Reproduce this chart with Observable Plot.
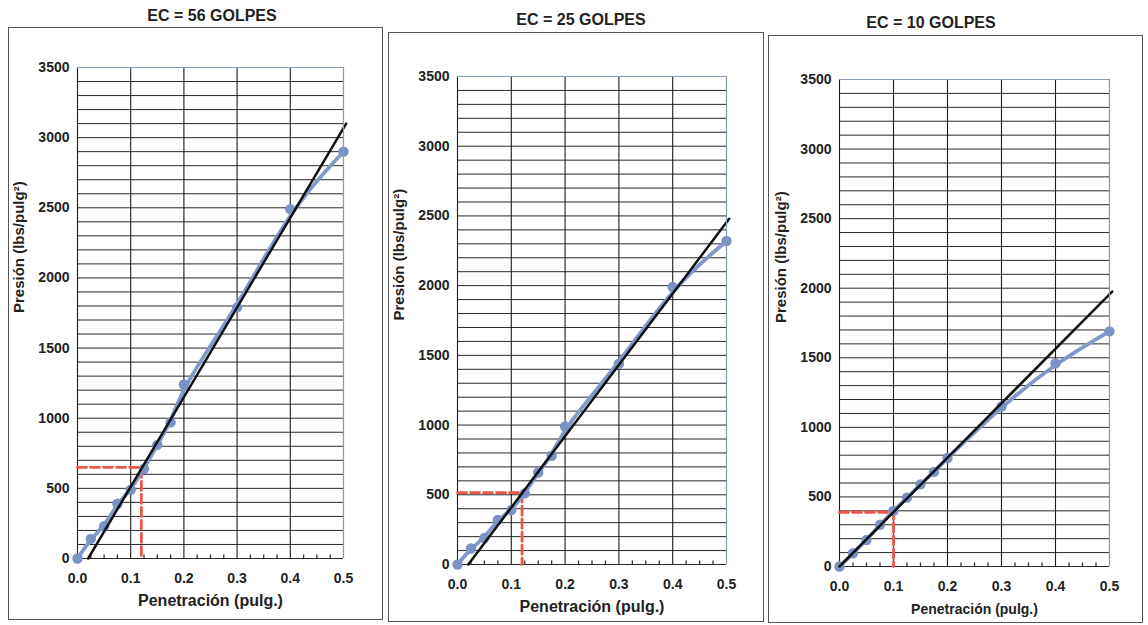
<!DOCTYPE html>
<html>
<head>
<meta charset="utf-8">
<script src="https://cdn.jsdelivr.net/npm/d3@7"></script>
<script src="https://cdn.jsdelivr.net/npm/@observablehq/plot@0.6"></script>
<style>
  body { margin: 0; background: #fff; width: 1148px; height: 625px; overflow: hidden; position: relative; font-family: "Liberation Sans", Arial, sans-serif; }
  .title { position: absolute; font-weight: bold; font-size: 16px; line-height: 18px; color: #222; transform: translateX(-50%); white-space: nowrap; }
  .box { position: absolute; border: 1.5px solid #555; box-sizing: border-box; background: #fff; }
  .box svg { display: block; }
</style>
</head>
<body>
<script>
// Shared penetration values (pulg.)
const penetration = [0, 0.025, 0.05, 0.075, 0.1, 0.125, 0.15, 0.175, 0.2, 0.3, 0.4, 0.5];
// Pressure readings (lbs/pulg²) for each compaction energy
const pressure56 = [0, 140, 230, 390, 490, 640, 810, 970, 1240, 1790, 2490, 2900];
const pressure25 = [0, 115, 190, 320, 390, 510, 660, 780, 990, 1440, 1990, 2320];
const pressure10 = [0, 95, 190, 300, 400, 495, 590, 680, 780, 1150, 1460, 1690];
// Straight trend lines: [x, y] endpoints
const fit56 = [[0.02, 0], [0.505, 3100]];
const fit25 = [[0.02, 0], [0.505, 2480]];
const fit10 = [[0.0, 0], [0.505, 1975]];
// Red reference readings: [penetration, pressure]
const ref56 = [0.12, 650];
const ref25 = [0.12, 515];
const ref10 = [0.1, 390];
// Titles, axis labels and ticks
const titles = ["EC = 56 GOLPES", "EC = 25 GOLPES", "EC = 10 GOLPES"];
const xLabel = "Penetración (pulg.)";
const yLabel = "Presión (lbs/pulg²)";
const xTicks = [0, 0.1, 0.2, 0.3, 0.4, 0.5];
const xMinorTicks = [0.025, 0.05, 0.075, 0.125, 0.15, 0.175, 0.225, 0.25, 0.275, 0.325, 0.35, 0.375, 0.425, 0.45, 0.475];
const yTicks = [0, 500, 1000, 1500, 2000, 2500, 3000, 3500];
const yGrid = d3.range(0, 3501, 100);

const series = [pressure56, pressure25, pressure10];
const fits = [fit56, fit25, fit10];
const refs = [ref56, ref25, ref10];

// layout (boxes and margins)
const layout = [
  {left: 8, top: 27, w: 375, h: 593, ml: 68, mr: 38, mt: 39, mb: 60, tx: 212, ty: 7, xl: 16},
  {left: 388, top: 32, w: 376, h: 590, ml: 68, mr: 36, mt: 43, mb: 56, tx: 581, ty: 11, xl: 16},
  {left: 768, top: 35, w: 375, h: 588, ml: 70, mr: 32, mt: 43, mb: 55, tx: 931, ty: 14, xl: 14}
];

const blue = "#8199c9";

layout.forEach((L, i) => {
  const t = document.createElement("div");
  t.className = "title";
  t.style.left = L.tx + "px";
  t.style.top = L.ty + "px";
  t.textContent = titles[i];
  document.body.appendChild(t);

  const box = document.createElement("div");
  box.className = "box";
  box.style.left = L.left + "px";
  box.style.top = L.top + "px";
  box.style.width = L.w + "px";
  box.style.height = L.h + "px";
  document.body.appendChild(box);

  const data = penetration.map((x, j) => ({x, y: series[i][j]}));
  const r = refs[i];
  const refPath = [[0, r[1]], [r[0], r[1]], [r[0], 0]];

  const chart = Plot.plot({
    width: L.w - 3,
    height: L.h - 3,
    marginLeft: L.ml,
    marginRight: L.mr,
    marginTop: L.mt,
    marginBottom: L.mb,
    style: {fontFamily: "'Liberation Sans', Arial, sans-serif", fontWeight: "bold", fontSize: "14px", color: "#222", background: "#fff"},
    x: {domain: [0, 0.5]},
    y: {domain: [0, 3500]},
    marks: [
      Plot.gridY(yGrid, {stroke: "#111", strokeOpacity: 0.9, strokeWidth: 1}),
      Plot.gridX(xTicks, {stroke: "#111", strokeOpacity: 0.95, strokeWidth: 1.1}),
      Plot.ruleX(xMinorTicks, {y1: 0, y2: 25, stroke: "#333", strokeWidth: 1.3}),
      Plot.line(refPath, {x: d => d[0], y: d => d[1], stroke: "#ee5548", strokeWidth: 2.8, strokeDasharray: "9,4"}),
      Plot.line(data, {x: "x", y: "y", curve: "basis", stroke: blue, strokeWidth: 3.8}),
      Plot.dot(data, {x: "x", y: "y", r: 5.2, fill: "#7a92c4"}),
      Plot.line(fits[i], {x: d => d[0], y: d => d[1], stroke: "#111", strokeWidth: 2.5}),
      Plot.ruleX([0.5], {stroke: "#8899bb", strokeWidth: 1}),
      Plot.ruleY([3500], {stroke: "#8899bb", strokeWidth: 1}),
      Plot.axisY(yTicks, {tickSize: 0, tickPadding: 8, fontSize: 14, fontWeight: "bold", tickFormat: d => String(d), label: null}),
      Plot.axisX(xTicks, {tickSize: 0, tickPadding: 15, tickFormat: d3.format(".1f"), fontSize: 14, fontWeight: "bold", label: null}),
      Plot.text([xLabel], {text: d => d, frameAnchor: "bottom", dy: 47, fontSize: L.xl, fontWeight: "bold", fill: "#222"}),
      Plot.text([yLabel], {text: d => d, frameAnchor: "left", dx: -58, rotate: -90, fontSize: 15, fontWeight: "bold", fill: "#222"})
    ]
  });
  box.appendChild(chart);
});
</script>
</body>
</html>
